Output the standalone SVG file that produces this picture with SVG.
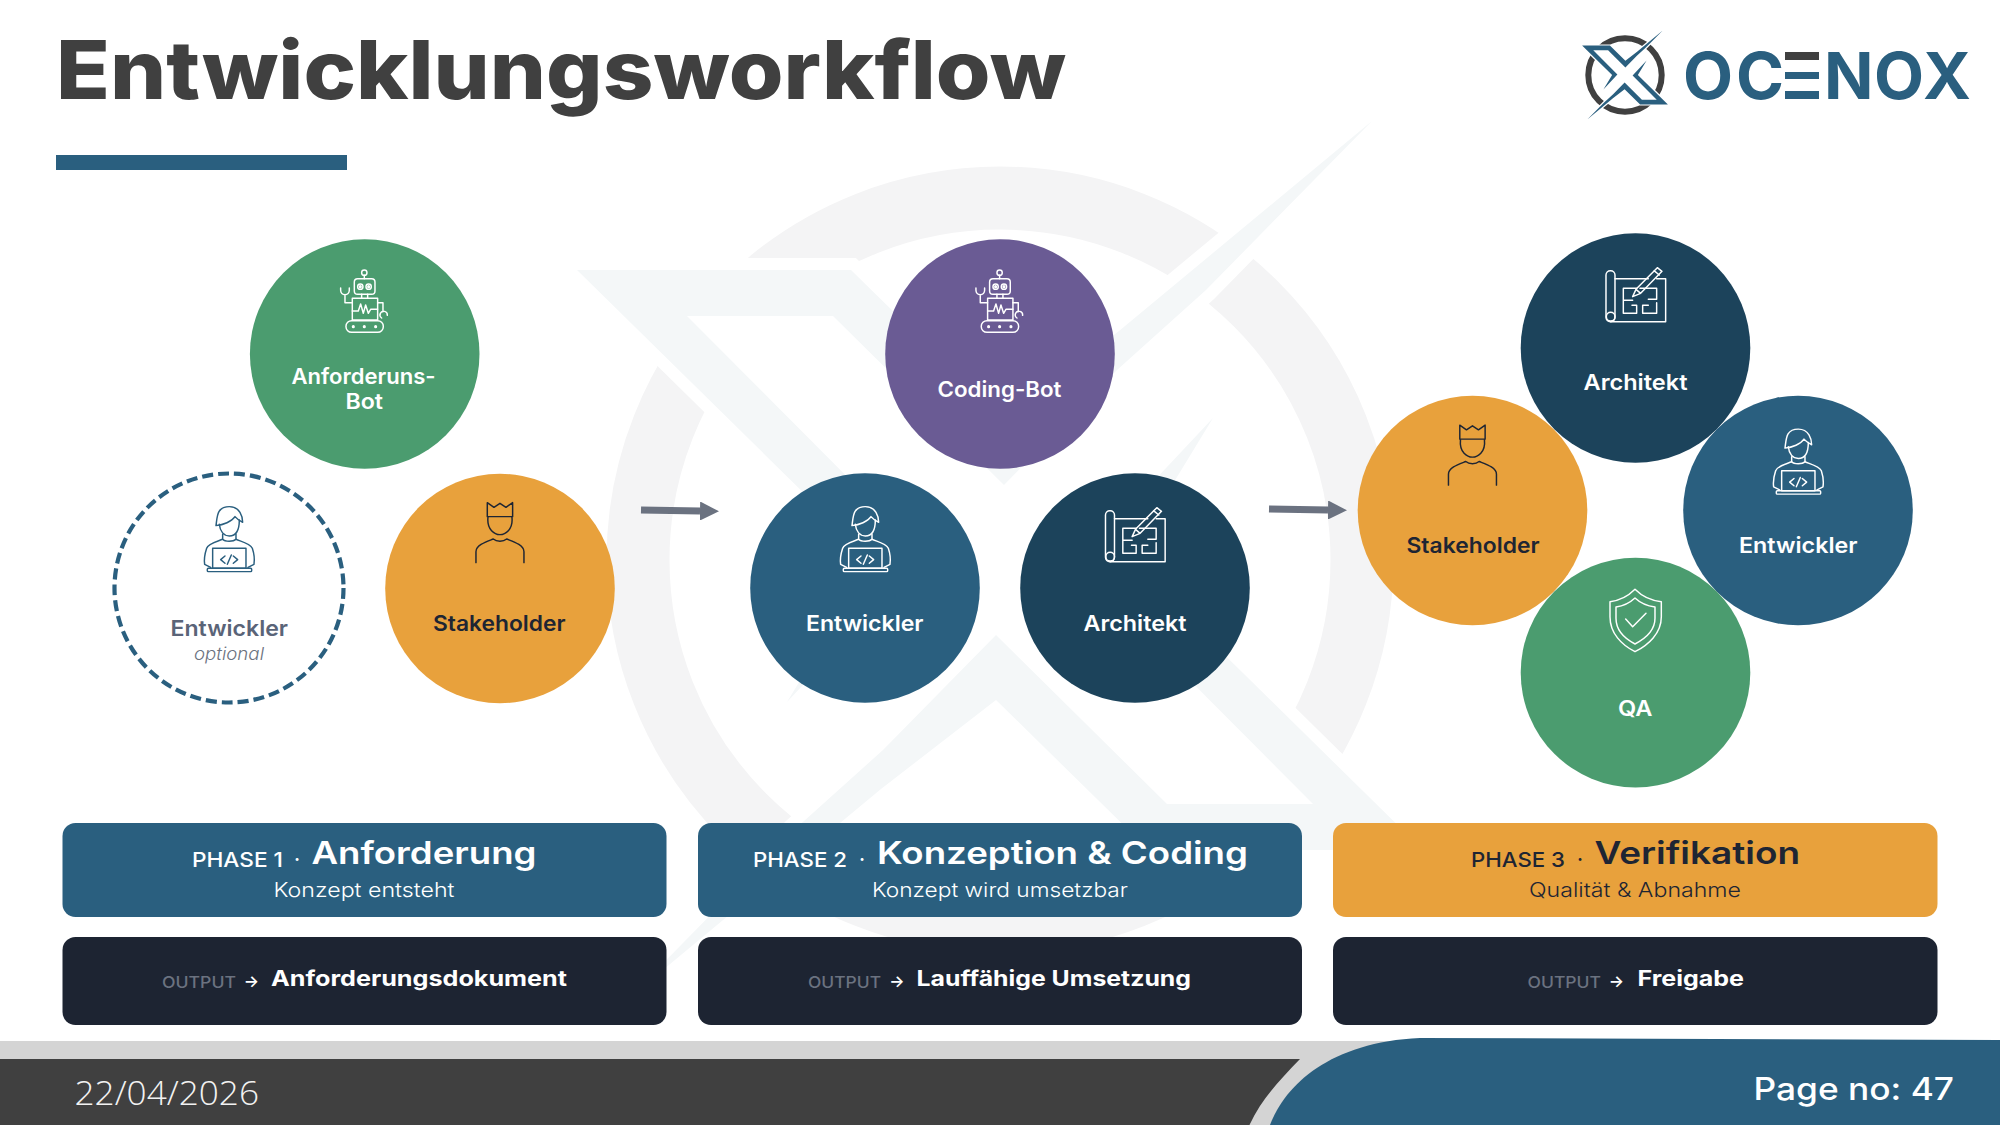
<svg xmlns="http://www.w3.org/2000/svg" width="2000" height="1125" viewBox="0 0 2000 1125">
<style>
text{font-family:Inter,"Liberation Sans",sans-serif}
.ic{fill:none;stroke-width:4.4;stroke-linecap:round;stroke-linejoin:round}
.lb{font-size:21.5px;font-weight:600;fill:#fff}
.ph{font-size:20px;font-weight:500;fill:#fff}
.pt{font-size:31px;font-weight:600;fill:#fff}
.ps{font-size:20px;font-weight:300;fill:#fff}
.ou{font-size:16px;font-weight:500;fill:#6b7280}
.oa{font-size:16px;font-weight:600;fill:#fff;text-anchor:middle}
.ov{font-size:21px;font-weight:700;fill:#fff}
.pb{fill:#2a5f7f}
.po{fill:#1d2432}
</style>
<defs>
<path id="xshape" d="M577 270H851L1004 420L1119 331L1372 121L1206 290L1117 370L1004 485L833 316H687L925 555L787 702L873 561ZM1423 850H1149L996 700L881 789L628 999L794 830L883 750L996 635L1167 804H1313L1075 565L1213 418L1127 559Z"/>
<path id="xhollow" d="M687 316H833L1004 485L925 555ZM1313 804H1167L996 635L1075 565Z"/>
<g id="robot" class="ic">
<circle cx="793" cy="128" r="8"/><path d="M793 136V146"/><rect x="763" y="146" width="62" height="47" rx="10"/>
<circle cx="781" cy="170" r="8"/><circle cx="806" cy="170" r="8"/><circle cx="781" cy="170" r="2.5"/><circle cx="806" cy="170" r="2.5"/>
<path d="M785 193V205M803 193V205"/><rect x="757" y="205" width="76" height="65"/>
<path d="M757 243H775L782 222L790 250L797 225L805 250L812 238H833"/>
<path d="M757 218H735V194M722 174V181A13 13 0 0 0 748 181V174"/>
<path d="M833 218H849V245M862 256A11 11 0 1 0 845 264"/>
<rect x="738" y="272" width="112" height="35" rx="17"/><circle cx="760" cy="290" r="2.5"/><circle cx="793" cy="290" r="2.5"/><circle cx="827" cy="290" r="2.5"/>
</g>
<g id="dev" class="ic">
<path d="M348 887C352 860 350 830 388 830C420 830 428 860 428 877C415 870 410 866 405 860C395 875 370 885 348 887Z"/>
<path d="M358 883C360 905 372 918 388 918C404 918 418 905 418 870"/>
<path d="M368 913V928C375 936 400 936 408 928V913"/>
<path d="M368 928C350 935 325 940 320 955C315 970 312 990 314 1003L332 1012M408 928C425 935 450 940 457 955C462 970 464 990 462 1003L444 1012"/>
<rect x="338" y="955" width="100" height="60"/><rect x="322" y="1015" width="133" height="10" rx="3"/>
<path d="M375 978L362 989L375 1000M400 978L413 989L400 1000M382 1003L394 975"/>
</g>
<g id="crown" class="ic">
<path d="M1162 860V818L1182 832L1200 820L1218 832L1238 818V860Z"/>
<path d="M1164 862C1160 900 1185 914 1200 914C1215 914 1240 900 1236 862"/>
<path d="M1128 998V965C1128 945 1160 935 1180 927C1190 936 1210 936 1220 927C1240 935 1272 945 1272 965V998"/>
</g>
<g id="plan" class="ic">
<rect x="318" y="122" width="27" height="153" rx="13"/><circle cx="332" cy="260" r="13"/>
<path d="M345 146H445M470 146H497V275H332"/>
<path d="M410 175H370V250H410V226H396M370 211H398M420 175H470V208H445M470 218V250H428V226H445"/>
<path d="M398 200L408 178L472 113L486 124L422 190ZM462 122L478 135M408 178L422 190"/>
</g>
<g id="shield" class="ic">
<path d="M225 58C245 78 270 92 304 95V140C304 190 265 225 225 245C185 225 150 190 150 140V95C182 92 205 78 225 58Z"/>
<path d="M225 84C240 98 262 108 285 111V145C285 180 258 205 225 222C192 205 168 180 168 145V111C190 108 210 98 225 84Z"/>
<path d="M197 147L218 170L258 130"/>
</g>
<marker id="head" markerUnits="userSpaceOnUse" markerWidth="19" markerHeight="19" refX="0" refY="9.5" orient="auto" viewBox="0 0 19 19"><path d="M0 0L19 9.5L0 19Z" fill="#6b7280"/></marker>
</defs>

<rect width="2000" height="1125" fill="#fff"/>

<g id="watermark">
<circle cx="1000" cy="560" r="362" fill="none" stroke="#f4f4f5" stroke-width="63"/>
<use href="#xhollow" fill="#fff"/>
<use href="#xshape" fill="#f4f7f8" stroke="#fff" stroke-width="24" paint-order="stroke"/>
</g>

<g id="title">
<text x="56" y="99" font-size="81" font-weight="800" fill="#404040" textLength="1010" lengthAdjust="spacingAndGlyphs">Entwicklungsworkflow</text>
<rect x="56" y="155" width="291" height="15" fill="#2a5f7f"/>
</g>

<g id="logo">
<circle cx="1625" cy="75" r="36.7" fill="none" stroke="#404040" stroke-width="6"/>
<g transform="translate(1625 75) scale(.1014) translate(-1000 -560)">
<use href="#xhollow" fill="#fff"/>
<use href="#xshape" fill="#2a5f7f" stroke="#fff" stroke-width="24" paint-order="stroke"/>
</g>
<text y="99" x="1683 1736 1786 1824 1874 1923" font-size="65" font-weight="700" fill="#2a5f7f">OC<tspan fill="none" font-size="48">E</tspan>NOX</text>
<rect x="1785" y="52" width="34" height="8" fill="#404040"/>
<rect x="1785" y="72" width="34" height="7" fill="#2a5f7f"/>
<rect x="1785" y="91" width="34" height="8" fill="#2a5f7f"/>
</g>

<g id="connectors">
<line x1="641" y1="510" x2="700" y2="511" stroke="#6b7280" stroke-width="7" marker-end="url(#head)"/>
<line x1="1269" y1="509" x2="1328" y2="510" stroke="#6b7280" stroke-width="7" marker-end="url(#head)"/>
</g>

<g id="node-p1-bot">
<circle cx="364.7" cy="354" r="114.8" fill="#4b9c6f"/>
<use href="#robot" transform="translate(100 230) scale(.3333)" stroke="#fff"/>
<text class="lb" x="291.5" y="384" textLength="144" lengthAdjust="spacingAndGlyphs">Anforderuns-</text>
<text class="lb" x="345.5" y="409" textLength="37.5" lengthAdjust="spacingAndGlyphs">Bot</text>
</g>
<g id="node-p1-dev">
<circle cx="229" cy="588" r="114.5" fill="#fff" stroke="#2a5f7f" stroke-width="4.2" stroke-dasharray="11 5"/>
<use href="#dev" transform="translate(100 230) scale(.3333)" stroke="#2a5f7f"/>
<text class="lb" x="170.5" y="635.7" textLength="117.5" lengthAdjust="spacingAndGlyphs" style="fill:#5a6478">Entwickler</text>
<text x="194" y="660" font-size="17.5" font-style="italic" font-weight="300" fill="#6b7280" textLength="70" lengthAdjust="spacingAndGlyphs">optional</text>
</g>
<g id="node-p1-stake">
<circle cx="500" cy="588.5" r="114.8" fill="#e8a13c"/>
<use href="#crown" transform="translate(100 230) scale(.3333)" stroke="#1e2533"/>
<text class="lb" style="fill:#1e2533" x="433" y="630.7" textLength="132.5" lengthAdjust="spacingAndGlyphs">Stakeholder</text>
</g>

<g id="node-p2-bot">
<circle cx="1000" cy="354" r="114.8" fill="#6a5b94"/>
<use href="#robot" transform="translate(735.3 230) scale(.3333)" stroke="#fff"/>
<text class="lb" x="937.5" y="397" textLength="124" lengthAdjust="spacingAndGlyphs">Coding-Bot</text>
</g>
<g id="node-p2-dev">
<circle cx="865" cy="588" r="114.8" fill="#2a5f7f"/>
<use href="#dev" transform="translate(736 230) scale(.3333)" stroke="#fff"/>
<text class="lb" x="806" y="631" textLength="117.5" lengthAdjust="spacingAndGlyphs">Entwickler</text>
</g>
<g id="node-p2-arch">
<circle cx="1135" cy="588" r="114.8" fill="#1c435b"/>
<use href="#plan" transform="translate(999.5 470) scale(.3333)" stroke="#fff"/>
<text class="lb" x="1083.5" y="631" textLength="103" lengthAdjust="spacingAndGlyphs">Architekt</text>
</g>

<g id="node-p3-arch">
<circle cx="1635.5" cy="348" r="114.8" fill="#1c435b"/>
<use href="#plan" transform="translate(1500 230) scale(.3333)" stroke="#fff"/>
<text class="lb" x="1583.5" y="390" textLength="104" lengthAdjust="spacingAndGlyphs">Architekt</text>
</g>
<g id="node-p3-stake">
<circle cx="1472.5" cy="510.5" r="114.8" fill="#e8a13c"/>
<use href="#crown" transform="translate(1072.5 152.5) scale(.3333)" stroke="#1e2533"/>
<text class="lb" style="fill:#1e2533" x="1406.5" y="553" textLength="133" lengthAdjust="spacingAndGlyphs">Stakeholder</text>
</g>
<g id="node-p3-dev">
<circle cx="1798" cy="510.5" r="114.8" fill="#2a5f7f"/>
<use href="#dev" transform="translate(1669 152.5) scale(.3333)" stroke="#fff"/>
<text class="lb" x="1739" y="553" textLength="118.5" lengthAdjust="spacingAndGlyphs">Entwickler</text>
</g>
<g id="node-p3-qa">
<circle cx="1635.5" cy="672.6" r="114.8" fill="#4b9c6f"/>
<use href="#shield" transform="translate(1560 570) scale(.3333)" stroke="#fff"/>
<text class="lb" x="1618" y="715.5" textLength="34.5" lengthAdjust="spacingAndGlyphs">QA</text>
</g>

<g id="phase-1">
<rect class="pb" x="62.5" y="823" width="604" height="94" rx="13"/>
<text class="ph" x="192" y="867" textLength="91" lengthAdjust="spacingAndGlyphs">PHASE 1</text>
<text class="ph" x="297" y="866" text-anchor="middle">·</text>
<text class="pt" x="311.5" y="864" textLength="225" lengthAdjust="spacingAndGlyphs">Anforderung</text>
<text class="ps" x="273.5" y="896.7" textLength="181" lengthAdjust="spacingAndGlyphs">Konzept entsteht</text>
</g>
<g id="output-1">
<rect class="po" x="62.5" y="937" width="604" height="88" rx="13"/>
<text class="ou" x="162" y="988" textLength="74" lengthAdjust="spacingAndGlyphs">OUTPUT</text>
<text class="oa" x="251.5" y="986.5">→</text>
<text class="ov" x="271" y="985.7" textLength="296" lengthAdjust="spacingAndGlyphs">Anforderungsdokument</text>
</g>
<g id="phase-2">
<rect class="pb" x="698" y="823" width="604" height="94" rx="13"/>
<text class="ph" x="753" y="867" textLength="94" lengthAdjust="spacingAndGlyphs">PHASE 2</text>
<text class="ph" x="862" y="866" text-anchor="middle">·</text>
<text class="pt" x="877" y="864" textLength="371" lengthAdjust="spacingAndGlyphs">Konzeption &amp; Coding</text>
<text class="ps" x="872" y="896.7" textLength="256" lengthAdjust="spacingAndGlyphs">Konzept wird umsetzbar</text>
</g>
<g id="output-2">
<rect class="po" x="698" y="937" width="604" height="88" rx="13"/>
<text class="ou" x="808" y="988" textLength="73" lengthAdjust="spacingAndGlyphs">OUTPUT</text>
<text class="oa" x="897" y="986.5">→</text>
<text class="ov" x="916.5" y="985.7" textLength="274.5" lengthAdjust="spacingAndGlyphs">Lauffähige Umsetzung</text>
</g>
<g id="phase-3">
<rect x="1333" y="823" width="604.5" height="94" rx="13" fill="#e8a13c"/>
<text class="ph" style="fill:#1e2533" x="1471" y="867" textLength="94" lengthAdjust="spacingAndGlyphs">PHASE 3</text>
<text class="ph" style="fill:#1e2533" x="1580" y="866" text-anchor="middle">·</text>
<text class="pt" style="fill:#1e2533" x="1594.5" y="864" textLength="205.5" lengthAdjust="spacingAndGlyphs">Verifikation</text>
<text class="ps" style="fill:#1e2533" x="1529" y="896.7" textLength="212" lengthAdjust="spacingAndGlyphs">Qualität &amp; Abnahme</text>
</g>
<g id="output-3">
<rect class="po" x="1333" y="937" width="604.5" height="88" rx="13"/>
<text class="ou" x="1527.5" y="988" textLength="73.5" lengthAdjust="spacingAndGlyphs">OUTPUT</text>
<text class="oa" x="1616.5" y="986.5">→</text>
<text class="ov" x="1637.5" y="985.7" textLength="106.5" lengthAdjust="spacingAndGlyphs">Freigabe</text>
</g>

<g id="footer">
<rect y="1041" width="2000" height="84" fill="#d4d4d4"/>
<path d="M0 1059H1300C1277 1083 1261 1100 1249.5 1125H0Z" fill="#404040"/>
<path d="M1270 1125C1285 1085 1330 1042 1420 1038L2000 1040V1125Z" fill="#2a5f7f"/>
<text x="74.5" y="1105" font-size="33" font-weight="300" fill="#f2f2f2" style="font-family:'Open Sans','Liberation Sans',sans-serif" textLength="184.5" lengthAdjust="spacingAndGlyphs">22/04/2026</text>
<text x="1753.5" y="1100" font-size="31" font-weight="500" fill="#fff" textLength="200.5" lengthAdjust="spacingAndGlyphs">Page no: 47</text>
</g>
</svg>
